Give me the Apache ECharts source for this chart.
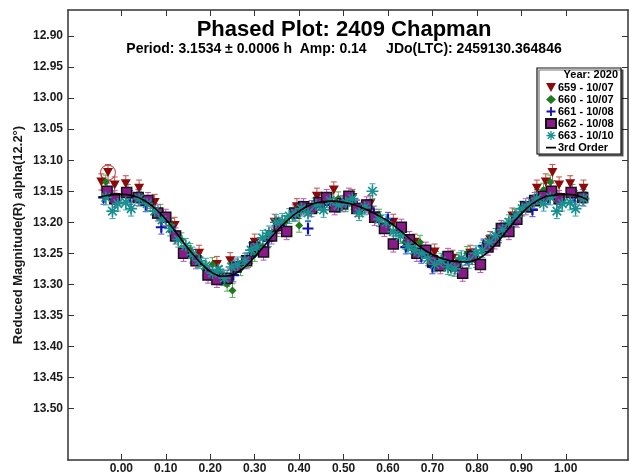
<!DOCTYPE html>
<html>
<head>
<meta charset="utf-8">
<script src="https://cdn.jsdelivr.net/npm/echarts@6/dist/echarts.min.js"></script>
<style>
  html, body { margin: 0; padding: 0; background: #fff; }
  #chart { width: 642px; height: 475px; }
</style>
</head>
<body>
<div id="chart"></div>
<script>
// Phased lightcurve of (2409) Chapman: five sessions plus a 3rd-order Fourier fit.
const FONT = '"Liberation Sans", Arial, sans-serif';

const titleText = 'Phased Plot: 2409 Chapman';
const subtitleText = 'Period: 3.1534 \u00b1 0.0006 h  Amp: 0.14     JDo(LTC): 2459130.364846';
const yAxisTitle = 'Reduced Magnitude(R) alpha(12.2\u00b0)';
const legendHeader = 'Year: 2020';
const fitName = '3rd Order';

const xTicks = [0.00, 0.10, 0.20, 0.30, 0.40, 0.50, 0.60, 0.70, 0.80, 0.90, 1.00];
const yTicks = [12.90, 12.95, 13.00, 13.05, 13.10, 13.15, 13.20, 13.25, 13.30, 13.35, 13.40, 13.45, 13.50];

const sessionNames = ['659 - 10/07', '660 - 10/07', '661 - 10/08', '662 - 10/08', '663 - 10/10'];

// session 659
const phase659 = [0.010, 0.040, 0.075, 0.120, 0.175, 0.215, 0.245, 0.300, 0.345, 0.395, 0.440, 0.478,
                  0.520, 0.560, 0.612, 0.660, 0.705, 0.745, 0.785, 0.830, 0.880, 0.935, 0.955, 0.970, 0.985];
const mag659   = [13.138, 13.145, 13.168, 13.205, 13.250, 13.268, 13.262, 13.232, 13.200, 13.175, 13.158, 13.148,
                  13.160, 13.170, 13.200, 13.232, 13.248, 13.258, 13.250, 13.228, 13.190, 13.145, 13.135, 13.120, 13.140];
const err659 = 0.013;

// session 660
const phase660 = [0.015, 0.040, 0.065, 0.088, 0.112, 0.135, 0.155, 0.172, 0.188, 0.205, 0.222, 0.238, 0.250,
                  0.268, 0.285, 0.300, 0.318, 0.332, 0.350, 0.368, 0.385, 0.400, 0.418, 0.435, 0.452, 0.470,
                  0.488, 0.505, 0.522, 0.540, 0.560, 0.580, 0.600, 0.618, 0.638, 0.655, 0.672, 0.690, 0.708,
                  0.725, 0.742, 0.760, 0.778, 0.798, 0.815, 0.832, 0.850, 0.868, 0.885, 0.900, 0.918, 0.935,
                  0.950, 0.965, 0.982];
const mag660   = [13.150, 13.158, 13.170, 13.182, 13.205, 13.228, 13.245, 13.262, 13.275, 13.268, 13.282, 13.300, 13.310,
                  13.275, 13.262, 13.252, 13.240, 13.228, 13.212, 13.200, 13.188, 13.205, 13.178, 13.172, 13.168, 13.165,
                  13.162, 13.172, 13.168, 13.180, 13.176, 13.190, 13.205, 13.215, 13.232, 13.240, 13.232, 13.255, 13.258,
                  13.262, 13.275, 13.260, 13.250, 13.262, 13.240, 13.232, 13.218, 13.205, 13.190, 13.178, 13.172, 13.158,
                  13.148, 13.135, 13.160];
const err660 = 0.011;

// session 661
const phase661 = [0.020, 0.055, 0.090, 0.118, 0.160, 0.198, 0.225, 0.252, 0.290, 0.330, 0.365, 0.420, 0.455,
                  0.492, 0.530, 0.568, 0.600, 0.640, 0.675, 0.700, 0.740, 0.778, 0.815, 0.850, 0.888, 0.925, 0.960];
const mag661   = [13.160, 13.172, 13.208, 13.215, 13.255, 13.282, 13.290, 13.285, 13.255, 13.230, 13.212, 13.210, 13.172,
                  13.170, 13.175, 13.185, 13.195, 13.240, 13.255, 13.272, 13.265, 13.258, 13.238, 13.222, 13.195, 13.180, 13.160];
const err661 = 0.011;

// session 662
const phase662 = [0.012, 0.038, 0.060, 0.082, 0.100, 0.122, 0.140, 0.168, 0.195, 0.215, 0.238, 0.258, 0.282,
                  0.300, 0.320, 0.338, 0.355, 0.372, 0.390, 0.410, 0.428, 0.445, 0.462, 0.480, 0.498, 0.512,
                  0.530, 0.552, 0.570, 0.592, 0.612, 0.630, 0.648, 0.665, 0.685, 0.700, 0.718, 0.735, 0.752,
                  0.768, 0.790, 0.808, 0.825, 0.840, 0.855, 0.872, 0.890, 0.910, 0.930, 0.950, 0.968, 0.985];
const mag662   = [13.152, 13.160, 13.165, 13.185, 13.192, 13.222, 13.250, 13.262, 13.285, 13.292, 13.290, 13.272, 13.262,
                  13.240, 13.248, 13.222, 13.205, 13.215, 13.185, 13.175, 13.178, 13.168, 13.160, 13.175, 13.170, 13.158,
                  13.178, 13.172, 13.192, 13.210, 13.235, 13.208, 13.228, 13.250, 13.245, 13.262, 13.270, 13.255, 13.270,
                  13.282, 13.255, 13.268, 13.240, 13.230, 13.210, 13.215, 13.195, 13.175, 13.165, 13.158, 13.150, 13.162];
const err662 = 0.013;

// session 663
const phase663 = [0.010, 0.022, 0.040, 0.058, 0.075, 0.092, 0.110, 0.128, 0.145, 0.160, 0.175, 0.190, 0.205,
                  0.218, 0.232, 0.248, 0.262, 0.278, 0.292, 0.305, 0.318, 0.332, 0.348, 0.362, 0.378, 0.392,
                  0.405, 0.420, 0.438, 0.455, 0.470, 0.488, 0.505, 0.520, 0.535, 0.548, 0.565, 0.580, 0.596,
                  0.612, 0.628, 0.645, 0.660, 0.676, 0.690, 0.705, 0.720, 0.735, 0.750, 0.765, 0.782, 0.798,
                  0.812, 0.828, 0.842, 0.858, 0.872, 0.888, 0.902, 0.918, 0.935, 0.950, 0.965, 0.980, 0.992];
const mag663   = [13.168, 13.178, 13.162, 13.170, 13.182, 13.196, 13.210, 13.228, 13.238, 13.252, 13.262, 13.270, 13.282,
                  13.276, 13.290, 13.272, 13.268, 13.262, 13.245, 13.240, 13.225, 13.218, 13.200, 13.198, 13.190, 13.186,
                  13.178, 13.185, 13.172, 13.180, 13.165, 13.172, 13.168, 13.162, 13.185, 13.176, 13.150, 13.195, 13.200,
                  13.215, 13.222, 13.238, 13.245, 13.250, 13.258, 13.268, 13.262, 13.272, 13.275, 13.258, 13.262, 13.250,
                  13.245, 13.232, 13.222, 13.212, 13.200, 13.190, 13.178, 13.172, 13.162, 13.170, 13.160, 13.182, 13.170];
const err663 = 0.012;

// 3rd-order Fourier fit sampled over the plotted phase range
const fitPhase = [-0.050, -0.025, 0.000, 0.025, 0.050, 0.075, 0.100, 0.125, 0.150, 0.175, 0.200, 0.225, 0.250,
                  0.275, 0.300, 0.325, 0.350, 0.375, 0.400, 0.425, 0.450, 0.475, 0.500, 0.525, 0.550, 0.575,
                  0.600, 0.625, 0.650, 0.675, 0.700, 0.725, 0.750, 0.775, 0.800, 0.825, 0.850, 0.875, 0.900,
                  0.925, 0.950, 0.975, 1.000, 1.025, 1.050];
const fitMag   = [13.160, 13.156, 13.155, 13.157, 13.164, 13.177, 13.195, 13.218, 13.242, 13.263, 13.279, 13.287, 13.285,
                  13.274, 13.256, 13.235, 13.214, 13.196, 13.182, 13.172, 13.167, 13.166, 13.168, 13.172, 13.179, 13.188,
                  13.198, 13.212, 13.227, 13.241, 13.252, 13.259, 13.263, 13.264, 13.260, 13.248, 13.229, 13.207, 13.186,
                  13.170, 13.160, 13.156, 13.155, 13.157, 13.164];

// the flagged observation of session 659 (ringed in the plot)
const flaggedIndex659 = 23;

// points near the phase edges are repeated one cycle over
const WRAP = 0.05;
function phased(ph, mag) {
  const out = [];
  ph.forEach((p, i) => {
    out.push([p, mag[i]]);
    if (p > 1 - WRAP) out.push([p - 1, mag[i]]);
    if (p < WRAP) out.push([p + 1, mag[i]]);
  });
  return out;
}

const TRI_DOWN = 'path://M0,0H10L5,9Z';
const PLUS = 'path://M-1,-5H1V-1H5V1H1V5H-1V1H-5V-1H-1Z';
const ASTERISK = 'path://M-5,-0.7H5V0.7H-5Z M-0.7,-5H0.7V5H-0.7Z ' +
  'M-3.05,-4.04L4.04,3.05L3.05,4.04L-4.04,-3.05Z M-4.04,3.05L3.05,-4.04L4.04,-3.05L-3.05,4.04Z';
// short horizontal stroke inside a 10x9 box (for the fit's legend key)
const LINE_KEY = 'path://M0,0L0.01,0L0,0.01Z M0,3.8H10V5.4H0Z M10,9L9.99,9L10,8.99Z';

const sessions = [
  { name: sessionNames[0], pts: phased(phase659, mag659), err: err659, symbol: TRI_DOWN, size: [10, 9],
    color: '#8b0a0a', border: null, barColor: '#c0504d' },
  { name: sessionNames[1], pts: phased(phase660, mag660), err: err660, symbol: 'diamond', size: 8,
    color: '#1e7a1e', border: null, barColor: '#4caf50' },
  { name: sessionNames[2], pts: phased(phase661, mag661), err: err661, symbol: PLUS, size: 11,
    color: '#1010b0', border: null, barColor: '#4a4ad0' },
  { name: sessionNames[3], pts: phased(phase662, mag662), err: err662, symbol: 'rect', size: 10,
    color: '#8a1a8a', border: '#151515', barColor: '#c050c0' },
  { name: sessionNames[4], pts: phased(phase663, mag663), err: err663, symbol: ASTERISK, size: 12,
    color: '#17908f', border: null, barColor: '#30a8a8' }
];

function errorBars(s) {
  return {
    type: 'custom',
    silent: true,
    z: 2,
    data: s.pts.map(p => [p[0], p[1] - s.err, p[1] + s.err]),
    encode: { x: 0, y: [1, 2] },
    renderItem: (params, api) => {
      const x = api.value(0);
      const a = api.coord([x, api.value(1)]);
      const b = api.coord([x, api.value(2)]);
      const cap = 3;
      const st = { stroke: s.barColor, lineWidth: 1 };
      return {
        type: 'group',
        children: [
          { type: 'line', shape: { x1: a[0], y1: a[1], x2: b[0], y2: b[1] }, style: st },
          { type: 'line', shape: { x1: a[0] - cap, y1: a[1], x2: a[0] + cap, y2: a[1] }, style: st },
          { type: 'line', shape: { x1: b[0] - cap, y1: b[1], x2: b[0] + cap, y2: b[1] }, style: st }
        ]
      };
    }
  };
}

function markers(s, z) {
  return {
    type: 'scatter',
    name: s.name,
    z: z,
    symbol: s.symbol,
    symbolSize: s.size,
    data: s.pts,
    itemStyle: {
      color: s.color,
      opacity: 1,
      borderColor: s.border || s.color,
      borderWidth: s.border ? 1.5 : 0
    }
  };
}

const series = [];
sessions.forEach(s => series.push(errorBars(s)));

// ring around the flagged point, shown at its repeated phase
series.push({
  type: 'scatter',
  silent: true,
  z: 2,
  symbol: 'circle',
  symbolSize: 15,
  data: [[phase659[flaggedIndex659] - 1, mag659[flaggedIndex659]]],
  itemStyle: { color: 'rgba(255,255,255,0)', borderColor: '#b03a3a', borderWidth: 1.2 }
});

sessions.forEach((s, i) => series.push(markers(s, 3 + i)));

series.push({
  type: 'line',
  name: fitName,
  z: 10,
  symbol: 'none',
  smooth: 0.3,
  data: fitPhase.map((p, i) => [p, fitMag[i]]),
  lineStyle: { color: '#000', width: 1.6 },
  itemStyle: { color: '#000' }
});

const axisLine = { show: true, onZero: false, lineStyle: { color: '#333', width: 1.5 } };
const tickStyle = { color: '#333', width: 1 };
const labelStyle = { fontFamily: FONT, fontWeight: 'bold', fontSize: 12, color: '#1a1a1a' };

const X_MIN = -0.12, X_MAX = 1.14;
const Y_MIN = 12.858, Y_MAX = 13.583;

const legendKeys = [
  { name: sessionNames[0], icon: TRI_DOWN },
  { name: sessionNames[1], icon: 'diamond' },
  { name: sessionNames[2], icon: PLUS },
  { name: sessionNames[3], icon: 'rect' },
  { name: sessionNames[4], icon: ASTERISK },
  { name: fitName, icon: LINE_KEY }
];

const option = {
  backgroundColor: '#fff',
  animation: false,
  grid: { left: 68, right: 14, top: 10, bottom: 12, show: false },
  xAxis: [
    {
      type: 'value', min: X_MIN, max: X_MAX, position: 'bottom',
      axisLine: axisLine,
      axisTick: { inside: true, length: 6, customValues: xTicks, lineStyle: tickStyle },
      axisLabel: Object.assign({ customValues: xTicks, margin: 3, formatter: v => v.toFixed(2) }, labelStyle),
      splitLine: { show: false }
    },
    {
      type: 'value', min: X_MIN, max: X_MAX, position: 'top',
      axisLine: axisLine,
      axisTick: { inside: true, length: 6, customValues: xTicks, lineStyle: tickStyle },
      axisLabel: { show: false },
      splitLine: { show: false }
    }
  ],
  yAxis: [
    {
      type: 'value', inverse: true, min: Y_MIN, max: Y_MAX, position: 'left',
      name: yAxisTitle, nameLocation: 'middle', nameGap: 43, nameMoveOverlap: false,
      nameTextStyle: { fontFamily: FONT, fontWeight: 'bold', fontSize: 13, color: '#1a1a1a' },
      axisLine: axisLine,
      axisTick: { inside: true, length: 6, customValues: yTicks, lineStyle: tickStyle },
      axisLabel: Object.assign({ customValues: yTicks, margin: 5, formatter: v => v.toFixed(2) }, labelStyle),
      splitLine: { show: false }
    },
    {
      type: 'value', inverse: true, min: Y_MIN, max: Y_MAX, position: 'right',
      axisLine: axisLine,
      axisTick: { inside: true, length: 6, customValues: yTicks, lineStyle: tickStyle },
      axisLabel: { show: false },
      splitLine: { show: false }
    }
  ],
  legend: {
    data: legendKeys,
    orient: 'vertical',
    left: 540, top: 77,
    itemWidth: 10, itemHeight: 9, itemGap: 1,
    selectedMode: false,
    z: 30,
    textStyle: { fontFamily: FONT, fontWeight: 'bold', fontSize: 11, lineHeight: 11, color: '#000', padding: [0, 0, 0, -3] }
  },
  graphic: [
    {
      type: 'text', x: 344, y: 30, z: 20,
      style: { text: titleText, fill: '#000', font: 'bold 22px ' + FONT, textAlign: 'center', textVerticalAlign: 'middle' }
    },
    {
      type: 'text', x: 344, y: 49, z: 20,
      style: { text: subtitleText, fill: '#000', font: 'bold 14px ' + FONT, textAlign: 'center', textVerticalAlign: 'middle' }
    },
    {
      type: 'rect', z: 25,
      shape: { x: 537, y: 68, width: 84, height: 86 },
      style: { fill: '#fff', stroke: '#111', lineWidth: 1.2, shadowColor: 'rgba(0,0,0,0.55)', shadowOffsetX: 2, shadowOffsetY: 2 }
    },
    {
      type: 'text', x: 618, y: 75, z: 26,
      style: { text: legendHeader, fill: '#000', font: 'bold 11px ' + FONT, textAlign: 'right', textVerticalAlign: 'middle' }
    }
  ],
  series: series
};

const chart = echarts.init(document.getElementById('chart'), null, { renderer: 'canvas' });
chart.setOption(option);
</script>
</body>
</html>
